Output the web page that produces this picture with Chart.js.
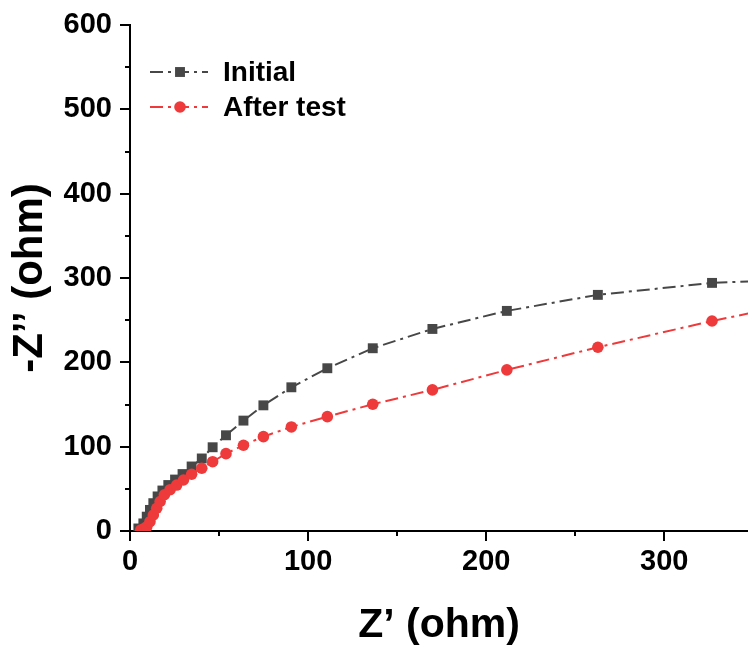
<!DOCTYPE html>
<html>
<head>
<meta charset="utf-8">
<script src="https://cdn.jsdelivr.net/npm/chart.js@4"></script>
<style>
  body { margin: 0; background: #fff; }
  #wrap { width: 748px; height: 652px; position: relative; }
</style>
</head>
<body>
<div id="wrap"><canvas id="eisChart"></canvas></div>
<script>
// Nyquist data (Z' and -Z'' in ohm)
const initialX = [4.7, 7.5, 9.4, 11.2, 13.1, 15.5, 18.2, 21.5, 25.3, 29.5, 34.6, 40.3, 46.4, 53.9, 63.7, 74.9, 90.6, 110.8, 136.3, 169.8, 211.6, 262.7, 326.8, 407];
const initialY = [3, 9, 17, 25, 33, 41, 48, 54.5, 61, 67.5, 76.5, 86, 99.3, 113.5, 130.9, 149, 170.4, 193, 216.7, 239.6, 261, 280, 294.2, 301];
const afterX = [6, 8, 9.4, 11.2, 13.1, 15, 16.9, 19.3, 22.5, 26.2, 30, 34.6, 40.3, 46.4, 53.9, 63.7, 74.9, 90.6, 110.8, 136.3, 169.8, 211.6, 262.7, 326.8, 407];
const afterY = [1, 3, 5, 11, 19, 27, 35, 43, 49, 54.5, 60.5, 67.3, 74.4, 82.2, 91.7, 101.7, 111.9, 123.4, 135.6, 150.3, 167.3, 191, 217.9, 249, 284];

const seriesNames = ['Initial', 'After test'];
const xTickValues = [0, 50, 100, 150, 200, 250, 300];
const yTickValues = [0, 50, 100, 150, 200, 250, 300, 350, 400, 450, 500, 550, 600];

const FONT = "'Liberation Sans', Arial, Helvetica, sans-serif";
const GRAY = '#474747';
const RED = '#ee3a3a';
const DASH = [13, 5, 3, 5];

const toPoints = (xs, ys) => xs.map((x, i) => ({ x: x, y: ys[i] }));

// draw outward tick marks, long on labelled values, short between
const tickMarks = {
    id: 'tickMarks',
    afterDraw(chart) {
        const ctx = chart.ctx;
        const area = chart.chartArea;
        const xs = chart.scales.x;
        const ys = chart.scales.y;
        ctx.save();
        ctx.strokeStyle = '#000';
        ctx.lineWidth = 2;
        ctx.beginPath();
        xTickValues.forEach(v => {
            const px = Math.round(xs.getPixelForValue(v));
            const len = v % 100 === 0 ? 10 : 5;
            ctx.moveTo(px, area.bottom);
            ctx.lineTo(px, area.bottom + len);
        });
        yTickValues.forEach(v => {
            const py = Math.round(ys.getPixelForValue(v));
            const len = v % 100 === 0 ? 10 : 5;
            ctx.moveTo(area.left, py);
            ctx.lineTo(area.left - len, py);
        });
        ctx.stroke();
        ctx.restore();
    }
};

// legend inside the plot: dash-dot line with marker in the middle
const insideLegend = {
    id: 'insideLegend',
    afterDraw(chart) {
        const ctx = chart.ctx;
        const area = chart.chartArea;
        const x0 = area.left + 20;
        const x1 = area.left + 78;
        const rowY = [area.top + 47, area.top + 82];
        chart.data.datasets.forEach((ds, i) => {
            const y = rowY[i];
            ctx.save();
            ctx.strokeStyle = ds.borderColor;
            ctx.lineWidth = ds.borderWidth;
            ctx.setLineDash(ds.borderDash);
            ctx.beginPath();
            ctx.moveTo(x0, y);
            ctx.lineTo(x1, y);
            ctx.stroke();
            ctx.setLineDash([]);
            ctx.fillStyle = ds.pointBackgroundColor;
            ctx.strokeStyle = ds.pointBackgroundColor;
            Chart.helpers.drawPoint(ctx, {
                pointStyle: ds.pointStyle,
                radius: ds.pointRadius,
                borderWidth: 0
            }, (x0 + x1) / 2 + 1, y);
            ctx.fillStyle = '#000';
            ctx.font = 'bold 28px ' + FONT;
            ctx.textBaseline = 'middle';
            ctx.fillText(ds.label, x1 + 15, y + 1);
            ctx.restore();
        });
    }
};

function createNyquistChart() {
    const ctx = document.getElementById('eisChart');
    if (!ctx) {
        console.error('eisChart canvas not found');
        return;
    }

    new Chart(ctx, {
        type: 'line',
        data: {
            datasets: [
                {
                    label: seriesNames[0],
                    data: toPoints(initialX, initialY),
                    borderColor: GRAY,
                    borderWidth: 2,
                    borderDash: DASH,
                    pointStyle: 'rect',
                    pointRadius: 7,
                    pointBorderWidth: 0,
                    pointBackgroundColor: GRAY,
                    order: 1
                },
                {
                    label: seriesNames[1],
                    data: toPoints(afterX, afterY),
                    borderColor: RED,
                    borderWidth: 2,
                    borderDash: DASH,
                    pointStyle: 'circle',
                    pointRadius: 5.8,
                    pointBorderWidth: 0,
                    pointBackgroundColor: RED,
                    order: 0
                }
            ]
        },
        options: {
            responsive: true,
            maintainAspectRatio: false,
            animation: false,
            layout: {
                autoPadding: false,
                padding: { top: 25, left: 0, right: 0, bottom: 0 }
            },
            plugins: {
                legend: { display: false },
                tooltip: { enabled: false }
            },
            scales: {
                x: {
                    type: 'linear',
                    min: 0,
                    max: 347,
                    afterBuildTicks: (scale) => {
                        scale.ticks = xTickValues.map(v => ({ value: v }));
                    },
                    afterFit: (scale) => {
                        scale.height = 121;
                        scale.paddingLeft = 0;
                        scale.paddingRight = 0;
                    },
                    border: { display: true, color: '#000', width: 2 },
                    grid: { display: false, drawTicks: false },
                    ticks: {
                        color: '#000',
                        padding: 14,
                        maxRotation: 0,
                        autoSkip: false,
                        font: { family: FONT, size: 29, weight: 'bold' },
                        callback: (value) => value % 100 === 0 ? value : ''
                    },
                    title: {
                        display: true,
                        text: 'Z\u2019 (ohm)',
                        color: '#000',
                        padding: { top: 0, bottom: 2 },
                        font: { family: FONT, size: 41, weight: 'bold', lineHeight: 1.2 }
                    }
                },
                y: {
                    type: 'linear',
                    min: 0,
                    max: 600,
                    afterBuildTicks: (scale) => {
                        scale.ticks = yTickValues.map(v => ({ value: v }));
                    },
                    afterFit: (scale) => {
                        scale.width = 130;
                        scale.paddingTop = 0;
                        scale.paddingBottom = 0;
                    },
                    border: { display: true, color: '#000', width: 2 },
                    grid: { display: false, drawTicks: false },
                    ticks: {
                        color: '#000',
                        padding: 18,
                        autoSkip: false,
                        font: { family: FONT, size: 29, weight: 'bold' },
                        callback: (value) => value % 100 === 0 ? value : ''
                    },
                    title: {
                        display: true,
                        text: '-Z\u2019\u2019 (ohm)',
                        color: '#000',
                        padding: { top: 5, bottom: 0 },
                        font: { family: FONT, size: 42, weight: 'bold', lineHeight: 1.2 }
                    }
                }
            }
        },
        plugins: [tickMarks, insideLegend]
    });
}

document.addEventListener('DOMContentLoaded', createNyquistChart);
</script>
</body>
</html>
